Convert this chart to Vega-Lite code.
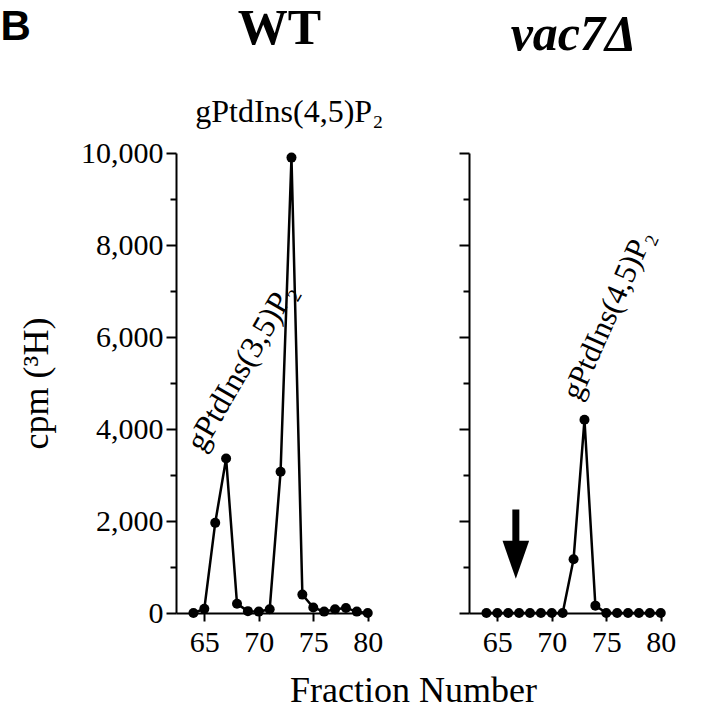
{
  "$schema": "https://vega.github.io/schema/vega-lite/v6.json",
  "background": "white",
  "padding": {"left": 0, "top": 3, "right": 0, "bottom": 0},
  "autosize": {"type": "pad"},
  "title": {"text": "B", "anchor": "start", "frame": "bounds", "font": "Liberation Sans", "fontSize": 42, "fontWeight": "bold", "color": "black", "dx": -18, "dy": 78, "offset": 0, "baseline": "alphabetic"},
  "config": {
    "view": {"stroke": null},
    "axis": {"domainColor": "black", "domainWidth": 2, "tickColor": "black", "tickWidth": 2, "labelColor": "black", "titleColor": "black", "labelFont": "Liberation Serif", "titleFont": "Liberation Serif", "labelFontSize": 30, "titleFontWeight": "normal", "grid": false, "labelFlush": false, "labelOverlap": false},
    "title": {"font": "Liberation Serif", "color": "black"},
    "text": {"font": "Liberation Serif", "color": "black"}
  },
  "datasets": {
    "wt": [
      {"fraction": 64, "cpm": 0}, {"fraction": 65, "cpm": 90}, {"fraction": 66, "cpm": 1960}, {"fraction": 67, "cpm": 3360},
      {"fraction": 68, "cpm": 200}, {"fraction": 69, "cpm": 40}, {"fraction": 70, "cpm": 30}, {"fraction": 71, "cpm": 80},
      {"fraction": 72, "cpm": 3070}, {"fraction": 73, "cpm": 9900}, {"fraction": 74, "cpm": 400}, {"fraction": 75, "cpm": 120},
      {"fraction": 76, "cpm": 30}, {"fraction": 77, "cpm": 80}, {"fraction": 78, "cpm": 110}, {"fraction": 79, "cpm": 30},
      {"fraction": 80, "cpm": 0}
    ],
    "vac7": [
      {"fraction": 64, "cpm": 0}, {"fraction": 65, "cpm": 0}, {"fraction": 66, "cpm": 0}, {"fraction": 67, "cpm": 0},
      {"fraction": 68, "cpm": 0}, {"fraction": 69, "cpm": 0}, {"fraction": 70, "cpm": 0}, {"fraction": 71, "cpm": 0},
      {"fraction": 72, "cpm": 1170}, {"fraction": 73, "cpm": 4200}, {"fraction": 74, "cpm": 160}, {"fraction": 75, "cpm": 0},
      {"fraction": 76, "cpm": 0}, {"fraction": 77, "cpm": 0}, {"fraction": 78, "cpm": 0}, {"fraction": 79, "cpm": 0},
      {"fraction": 80, "cpm": 0}
    ],
    "wtTopLabel": [{"fraction": 72.8, "cpm": 10900, "label": "gPtdIns(4,5)P₂"}],
    "wtSideLabel": [{"fraction": 68.4, "cpm": 5350, "label": "gPtdIns(3,5)P₂"}],
    "vacSideLabel": [{"fraction": 75.2, "cpm": 6480, "label": "gPtdIns(4,5)P₂"}],
    "arrowShaft": [{"fraction": 66.7, "top": 2250, "bottom": 1450}],
    "arrowHead": [{"fraction": 66.7, "cpm": 1155}]
  },
  "bounds": "flush",
  "spacing": 98,
  "hconcat": [
    {
      "width": 195,
      "height": 460,
      "title": {"text": "WT", "fontSize": 50, "fontWeight": "bold", "offset": 2, "baseline": "alphabetic", "anchor": "middle", "dx": 6},
      "layer": [
        {
          "data": {"name": "wt"},
          "mark": {"type": "line", "color": "black", "strokeWidth": 2.5},
          "encoding": {
            "x": {"field": "fraction", "type": "quantitative", "scale": {"domain": [62.4, 80.3], "nice": false, "zero": false},
              "axis": {"values": [65, 70, 75, 80], "tickSize": 8, "labelPadding": 6, "title": "Fraction Number", "titleFontSize": 36, "titleX": 237, "titleAlign": "center", "titlePadding": 16}},
            "y": {"field": "cpm", "type": "quantitative", "scale": {"domain": [0, 10000], "nice": false},
              "axis": {"values": [0, 1000, 2000, 3000, 4000, 5000, 6000, 7000, 8000, 9000, 10000],
                "tickSize": {"condition": {"test": "datum.value % 2000 !== 0", "value": 6}, "value": 10},
                "labelExpr": "datum.value % 2000 === 0 ? format(datum.value, ',') : ''",
                "labelPadding": 3, "title": "cpm (³H)", "titleFontSize": 36, "titlePadding": 25}}
          }
        },
        {
          "data": {"name": "wt"},
          "mark": {"type": "circle", "color": "black", "size": 100, "opacity": 1},
          "encoding": {
            "x": {"field": "fraction", "type": "quantitative"},
            "y": {"field": "cpm", "type": "quantitative"}
          }
        },
        {
          "data": {"name": "wtTopLabel"},
          "mark": {"type": "text", "fontSize": 32, "align": "center", "baseline": "middle"},
          "encoding": {
            "x": {"field": "fraction", "type": "quantitative"},
            "y": {"field": "cpm", "type": "quantitative"},
            "text": {"field": "label"}
          }
        },
        {
          "data": {"name": "wtSideLabel"},
          "mark": {"type": "text", "fontSize": 32, "align": "center", "baseline": "middle", "angle": -60},
          "encoding": {
            "x": {"field": "fraction", "type": "quantitative"},
            "y": {"field": "cpm", "type": "quantitative"},
            "text": {"field": "label"}
          }
        }
      ]
    },
    {
      "width": 195,
      "height": 460,
      "title": {"text": "vac7Δ", "fontSize": 50, "fontWeight": "bold", "fontStyle": "italic", "offset": 52, "baseline": "alphabetic", "anchor": "middle", "dx": 7},
      "layer": [
        {
          "data": {"name": "vac7"},
          "mark": {"type": "line", "color": "black", "strokeWidth": 2.5},
          "encoding": {
            "x": {"field": "fraction", "type": "quantitative", "scale": {"domain": [62.4, 80.3], "nice": false, "zero": false},
              "axis": {"values": [65, 70, 75, 80], "tickSize": 8, "labelPadding": 6, "title": null}},
            "y": {"field": "cpm", "type": "quantitative", "scale": {"domain": [0, 10000], "nice": false},
              "axis": {"values": [0, 1000, 2000, 3000, 4000, 5000, 6000, 7000, 8000, 9000, 10000],
                "tickSize": {"condition": {"test": "datum.value % 2000 !== 0", "value": 6}, "value": 10},
                "labels": false, "title": null}}
          }
        },
        {
          "data": {"name": "vac7"},
          "mark": {"type": "circle", "color": "black", "size": 100, "opacity": 1},
          "encoding": {
            "x": {"field": "fraction", "type": "quantitative"},
            "y": {"field": "cpm", "type": "quantitative"}
          }
        },
        {
          "data": {"name": "vacSideLabel"},
          "mark": {"type": "text", "fontSize": 31, "align": "center", "baseline": "middle", "angle": -66},
          "encoding": {
            "x": {"field": "fraction", "type": "quantitative"},
            "y": {"field": "cpm", "type": "quantitative"},
            "text": {"field": "label"}
          }
        },
        {
          "data": {"name": "arrowShaft"},
          "mark": {"type": "rule", "color": "black", "strokeWidth": 7, "strokeCap": "butt"},
          "encoding": {
            "x": {"field": "fraction", "type": "quantitative"},
            "y": {"field": "top", "type": "quantitative"},
            "y2": {"field": "bottom"}
          }
        },
        {
          "data": {"name": "arrowHead"},
          "mark": {"type": "point", "shape": "M-0.7,-1L0.7,-1L0,1Z", "size": 1444, "filled": true, "color": "black", "opacity": 1, "strokeWidth": 0},
          "encoding": {
            "x": {"field": "fraction", "type": "quantitative"},
            "y": {"field": "cpm", "type": "quantitative"}
          }
        }
      ]
    }
  ]
}
